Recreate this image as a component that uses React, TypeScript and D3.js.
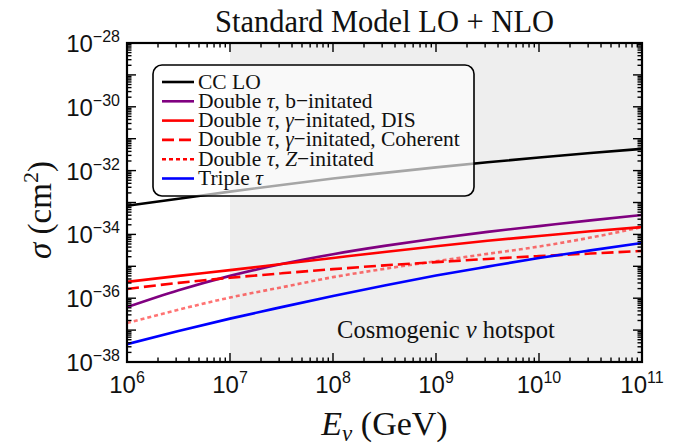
import React from "react";
import * as d3 from "d3";

// log10 of neutrino energy (GeV) at which the curves were read
const logEnergy = [6, 6.5, 7, 7.5, 8, 8.5, 9, 9.5, 10, 10.5, 11];

// log10 of cross section (cm^2) for each process
const ccLO = [-33.1, -32.88, -32.66, -32.45, -32.25, -32.07, -31.9, -31.74, -31.59, -31.45, -31.32];
const doubleTauB = [-36.28, -35.75, -35.3, -34.93, -34.62, -34.36, -34.13, -33.92, -33.74, -33.56, -33.39];
const doubleTauGammaDIS = [-35.49, -35.3, -35.12, -34.93, -34.74, -34.55, -34.37, -34.2, -34.05, -33.9, -33.77];
const doubleTauGammaCoh = [-35.71, -35.52, -35.36, -35.22, -35.09, -34.97, -34.87, -34.77, -34.68, -34.6, -34.52];
const doubleTauZ = [-36.78, -36.36, -35.98, -35.66, -35.34, -35.08, -34.84, -34.61, -34.38, -34.1, -33.77];
const tripleTau = [-37.44, -37.03, -36.64, -36.28, -35.93, -35.6, -35.29, -35.01, -34.74, -34.5, -34.27];

const xTickExps = [6, 7, 8, 9, 10, 11];
const yTickExps = [-28, -30, -32, -34, -36, -38];
const hotspot = [1e7, 1e11];

const series = [
  { key: "cc", values: ccLO, color: "#000000", dash: null, opacity: 1, legendColor: "#000000" },
  { key: "b", values: doubleTauB, color: "#800080", dash: null, opacity: 1, legendColor: "#800080" },
  { key: "dis", values: doubleTauGammaDIS, color: "#ff0000", dash: null, opacity: 1, legendColor: "#ff0000" },
  { key: "coh", values: doubleTauGammaCoh, color: "#ff0000", dash: "12,5", opacity: 1, legendColor: "#ff0000" },
  { key: "z", values: doubleTauZ, color: "#ff0000", dash: "4,3", opacity: 0.55, legendColor: "#ff0000" },
  { key: "tri", values: tripleTau, color: "#0000ff", dash: null, opacity: 1, legendColor: "#0000ff" },
];

const W = 680,
  H = 445;
const margin = { top: 43, right: 38, bottom: 83, left: 127 };
const serif = "'Liberation Serif', 'Times New Roman', serif";
const sans = "'Liberation Sans', Arial, sans-serif";

const legendLabel = (key: string) => {
  const it = { fontStyle: "italic" as const };
  switch (key) {
    case "cc":
      return <tspan>CC LO</tspan>;
    case "b":
      return (
        <>
          <tspan>Double </tspan>
          <tspan {...it}>τ</tspan>
          <tspan>, b−initated</tspan>
        </>
      );
    case "dis":
      return (
        <>
          <tspan>Double </tspan>
          <tspan {...it}>τ</tspan>
          <tspan>, </tspan>
          <tspan {...it}>γ</tspan>
          <tspan>−initated, DIS</tspan>
        </>
      );
    case "coh":
      return (
        <>
          <tspan>Double </tspan>
          <tspan {...it}>τ</tspan>
          <tspan>, </tspan>
          <tspan {...it}>γ</tspan>
          <tspan>−initated, Coherent</tspan>
        </>
      );
    case "z":
      return (
        <>
          <tspan>Double </tspan>
          <tspan {...it}>τ</tspan>
          <tspan>, </tspan>
          <tspan {...it}>Z</tspan>
          <tspan>−initated</tspan>
        </>
      );
    default:
      return (
        <>
          <tspan>Triple </tspan>
          <tspan {...it}>τ</tspan>
        </>
      );
  }
};

export default function App() {
  const x = d3
    .scaleLog()
    .domain([1e6, 1e11])
    .range([margin.left, W - margin.right]);
  const y = d3
    .scaleLog()
    .domain([1e-38, 1e-28])
    .range([H - margin.bottom, margin.top]);

  const line = d3
    .line<[number, number]>()
    .x((d) => x(Math.pow(10, d[0])))
    .y((d) => y(Math.pow(10, d[1])))
    .curve(d3.curveMonotoneX);

  const x0 = margin.left,
    x1 = W - margin.right,
    y0 = margin.top,
    y1 = H - margin.bottom;

  // minor ticks 2..9 in each decade
  const xTicks: { v: number; major: boolean }[] = [];
  for (let e = 6; e <= 11; e++) {
    xTicks.push({ v: Math.pow(10, e), major: true });
    if (e < 11) for (let m = 2; m <= 9; m++) xTicks.push({ v: m * Math.pow(10, e), major: false });
  }
  const yTicks: { v: number; major: boolean }[] = [];
  for (let e = -38; e <= -28; e++) {
    yTicks.push({ v: Math.pow(10, e), major: true });
    if (e < -28) for (let m = 2; m <= 9; m++) yTicks.push({ v: m * Math.pow(10, e), major: false });
  }
  const majorLen = 9,
    minorLen = 4.5;

  const lgX = 153,
    lgY = 65,
    lgW = 321,
    lgH = 131;

  return (
    <svg width={W} height={H} style={{ position: "absolute", left: 0, top: 0, background: "#fff" }}>
      <defs>
        <clipPath id="plot">
          <rect x={x0} y={y0} width={x1 - x0} height={y1 - y0} />
        </clipPath>
      </defs>

      <rect x={x(hotspot[0])} y={y0} width={x(hotspot[1]) - x(hotspot[0])} height={y1 - y0} fill="#eeeeee" />

      <text x={446} y={338} fontFamily={serif} fontSize={24.5} textAnchor="middle" fill="#111">
        Cosmogenic <tspan fontStyle="italic">ν</tspan> hotspot
      </text>

      <g clipPath="url(#plot)">
        {series.map((s) => (
          <path
            key={s.key}
            d={line(logEnergy.map((e, i) => [e, s.values[i]] as [number, number])) || ""}
            fill="none"
            stroke={s.color}
            strokeOpacity={s.opacity}
            strokeWidth={2.6}
            strokeDasharray={s.dash || undefined}
          />
        ))}
      </g>

      {/* legend */}
      <rect x={lgX} y={lgY} width={lgW} height={lgH} rx={9} fill="#ffffff" fillOpacity={0.65} stroke="#000" strokeWidth={1.6} />
      {series.map((s, i) => {
        const cy = 82 + i * 19.3;
        return (
          <g key={s.key}>
            <line x1={162} x2={194} y1={cy} y2={cy} stroke={s.legendColor} strokeWidth={2.6} strokeDasharray={s.dash || undefined} />
            <text x={198} y={cy + 6.5} fontFamily={serif} fontSize={21.5} fill="#111">
              {legendLabel(s.key)}
            </text>
          </g>
        );
      })}

      {/* frame and ticks */}
      <g stroke="#000" strokeWidth={1.4}>
        {xTicks.map((t, i) => {
          const len = t.major ? majorLen : minorLen;
          const px = x(t.v);
          return (
            <g key={"xt" + i}>
              <line x1={px} x2={px} y1={y1} y2={y1 - len} />
              <line x1={px} x2={px} y1={y0} y2={y0 + len} />
            </g>
          );
        })}
        {yTicks.map((t, i) => {
          const len = t.major ? majorLen : minorLen;
          const py = y(t.v);
          return (
            <g key={"yt" + i}>
              <line x1={x0} x2={x0 + len} y1={py} y2={py} />
              <line x1={x1} x2={x1 - len} y1={py} y2={py} />
            </g>
          );
        })}
      </g>
      <rect x={x0} y={y0} width={x1 - x0} height={y1 - y0} fill="none" stroke="#000" strokeWidth={2.2} />

      {/* tick labels */}
      {xTickExps.map((e) => (
        <text key={"xl" + e} x={x(Math.pow(10, e))} y={393} fontFamily={sans} fontSize={24} textAnchor="middle" fill="#111">
          10<tspan fontSize={16} dy={-10}>{e}</tspan>
        </text>
      ))}
      {yTickExps.map((e) => (
        <text key={"yl" + e} x={120} y={y(Math.pow(10, e)) + 9} fontFamily={sans} fontSize={24} textAnchor="end" fill="#111">
          10<tspan fontSize={16} dy={-10}>{"−" + Math.abs(e)}</tspan>
        </text>
      ))}

      {/* titles */}
      <text x={(x0 + x1) / 2} y={32} fontFamily={serif} fontSize={30.5} textAnchor="middle" fill="#111">
        Standard Model LO + NLO
      </text>
      <text x={(x0 + x1) / 2} y={435} fontFamily={serif} fontSize={34} textAnchor="middle" fill="#111">
        <tspan fontStyle="italic">E</tspan>
        <tspan fontStyle="italic" fontSize={23} dy={6}>ν</tspan>
        <tspan dy={-6}> (GeV)</tspan>
      </text>
      <text transform={`translate(51, ${210}) rotate(-90)`} fontFamily={serif} fontSize={33} textAnchor="middle" fill="#111">
        <tspan fontStyle="italic">σ</tspan>
        <tspan> (cm</tspan>
        <tspan fontSize={22} dy={-13}>2</tspan>
        <tspan dy={13}>)</tspan>
      </text>
    </svg>
  );
}
